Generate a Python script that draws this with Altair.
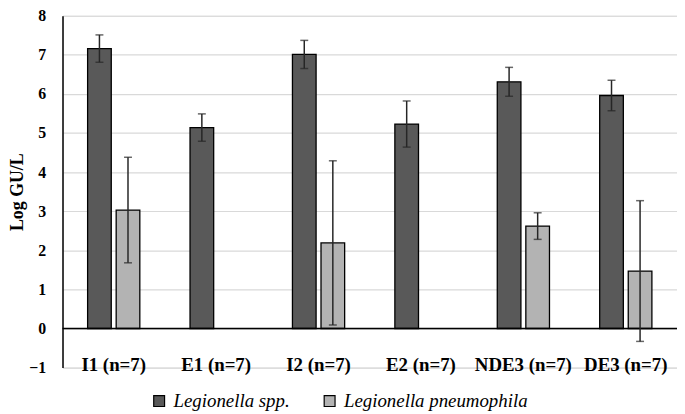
import altair as alt
import pandas as pd

categories = ["I1 (n=7)", "E1 (n=7)", "I2 (n=7)", "E2 (n=7)", "NDE3 (n=7)", "DE3 (n=7)"]
series = ["Legionella spp.", "Legionella pneumophila"]
spp = [7.16, 5.14, 7.01, 5.23, 6.31, 5.96]
spp_err = [0.35, 0.35, 0.36, 0.59, 0.37, 0.39]
pneu = [3.03, None, 2.19, None, 2.62, 1.47]
pneu_err = [1.35, None, 2.10, None, 0.34, 1.80]
y_ticks = [-1, 0, 1, 2, 3, 4, 5, 6, 7, 8]
colors = ["#595959", "#b3b3b3"]

rows = []
for c, v, e in zip(categories, spp, spp_err):
    rows.append({"cat": c, "series": series[0], "v": v, "lo": v - e, "hi": v + e})
for c, v, e in zip(categories, pneu, pneu_err):
    if v is not None:
        rows.append({"cat": c, "series": series[1], "v": v, "lo": v - e, "hi": v + e})
df = pd.DataFrame(rows)

FONT = "Liberation Serif"

x = alt.X("cat:N", sort=categories,
          scale=alt.Scale(paddingInner=0, paddingOuter=0),
          axis=alt.Axis(title=None, orient="bottom", domain=False, ticks=False,
                        grid=False, labelAngle=0, labelFont=FONT, labelFontSize=19,
                        labelFontWeight="bold", labelColor="black",
                        labelBaseline="alphabetic", labelPadding=3))
xo = alt.XOffset("series:N", sort=series,
                 scale=alt.Scale(domain=series, paddingInner=0.172, paddingOuter=0.879))
y_scale = alt.Scale(domain=[-1, 8], nice=False, zero=False)
y_axis = alt.Axis(title="Log GU/L", values=y_ticks, ticks=False,
                  labelOverlap=False, labelFlush=False,
                  labelFont=FONT, labelFontSize=16, labelFontWeight="bold",
                  labelColor="black", labelPadding=17,
                  domainColor="black", domainWidth=1.5,
                  gridColor="#d9d9d9", gridWidth=1.2,
                  titleFont=FONT, titleFontSize=18, titleFontWeight="bold",
                  titleColor="black", titlePadding=2)

base = alt.Chart(df)

bars = base.mark_bar(stroke="black", strokeWidth=1.3).encode(
    x=x, xOffset=xo,
    y=alt.Y("v:Q", scale=y_scale, axis=y_axis),
    y2=alt.datum(0),
    color=alt.Color("series:N", sort=series,
                    scale=alt.Scale(domain=series, range=colors),
                    legend=alt.Legend(title=None, orient="none", direction="horizontal",
                                      legendX=88, legendY=379,
                                      symbolType="square", symbolSize=120,
                                      symbolStrokeColor="black", symbolStrokeWidth=1.2,
                                      labelFont=FONT, labelFontSize=19,
                                      labelFontStyle="italic", labelColor="black",
                                      labelLimit=400,
                                      labelOffset=5, columnPadding=30)),
)

zero = alt.Chart(pd.DataFrame({"z": [0]})).mark_rule(color="black", strokeWidth=1.5).encode(
    y=alt.Y("z:Q", scale=y_scale, axis=y_axis)
)

err = base.mark_rule(color="#262626", strokeWidth=1.5).encode(
    x=x, xOffset=xo, y=alt.Y("lo:Q", scale=y_scale, axis=y_axis), y2="hi:Q"
)
cap_hi = base.mark_tick(color="#262626", thickness=1.5, size=8, orient="horizontal").encode(
    x=x, xOffset=xo, y=alt.Y("hi:Q", scale=y_scale, axis=y_axis)
)
cap_lo = base.mark_tick(color="#262626", thickness=1.5, size=8, orient="horizontal").encode(
    x=x, xOffset=xo, y=alt.Y("lo:Q", scale=y_scale, axis=y_axis)
)

chart = alt.layer(bars, zero, err, cap_hi, cap_lo).properties(
    width=620, height=355,
    autosize=alt.AutoSizeParams(type="none"),
    padding={"left": 55, "top": 6, "right": 0, "bottom": 45},
).configure_view(stroke=None).configure(background="white")

chart.save("out.html", embed_options={"renderer": "svg", "actions": False})
